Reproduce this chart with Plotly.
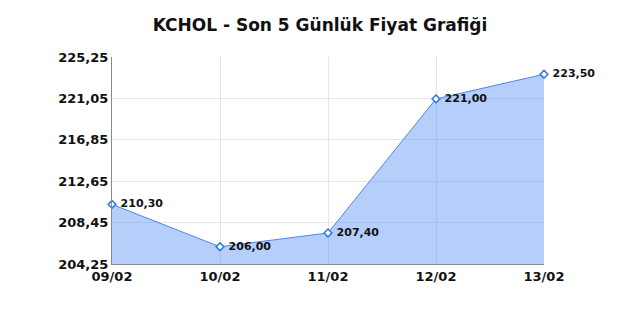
import plotly.graph_objects as go

dates = ["09/02", "10/02", "11/02", "12/02", "13/02"]
prices = [210.30, 206.00, 207.40, 221.00, 223.50]
price_labels = ["210,30", "206,00", "207,40", "221,00", "223,50"]
y_ticks = [204.25, 208.45, 212.65, 216.85, 221.05, 225.25]
y_tick_labels = ["204,25", "208,45", "212,65", "216,85", "221,05", "225,25"]

x_idx = list(range(len(dates)))

fig = go.Figure()
fig.add_trace(go.Scatter(
    x=x_idx, y=prices,
    mode="lines+markers+text",
    fill="tozeroy",
    fillcolor="rgba(90,148,244,0.45)",
    line=dict(color="#4a86f0", width=1),
    marker=dict(symbol="diamond", size=6, color="white",
                line=dict(color="#2f74f0", width=1.5)),
    text=[" " + t for t in price_labels],
    textposition="middle right",
    textfont=dict(family="DejaVu Sans", size=11, color="#111111", weight="bold"),
    cliponaxis=False,
    hoverinfo="skip",
))

fig.update_layout(
    width=640, height=320,
    margin=dict(l=112, r=96, t=57, b=56),
    paper_bgcolor="white", plot_bgcolor="white",
    showlegend=False,
    title=dict(text="<b>KCHOL - Son 5 Günlük Fiyat Grafiği</b>",
               x=0.5, xanchor="center", y=1 - 25/320, yanchor="middle",
               font=dict(family="DejaVu Sans", size=17, color="#111111")),
    font=dict(family="DejaVu Sans", color="#111111"),
)
fig.update_xaxes(
    range=[0, 4], tickvals=x_idx, ticktext=dates,
    showgrid=True, gridcolor="#e6e6e6", gridwidth=1,
    showline=True, linecolor="#888888", linewidth=1,
    zeroline=False, ticks="",
    tickfont=dict(family="DejaVu Sans", size=13, color="#111111", weight="bold"),
)
fig.update_yaxes(
    range=[204.25, 225.25], tickvals=y_ticks, ticktext=y_tick_labels,
    showgrid=True, gridcolor="#e6e6e6", gridwidth=1,
    showline=True, linecolor="#888888", linewidth=1,
    zeroline=False, ticks="",
    tickfont=dict(family="DejaVu Sans", size=13, color="#111111", weight="bold"),
)

fig.write_html("out.html")
